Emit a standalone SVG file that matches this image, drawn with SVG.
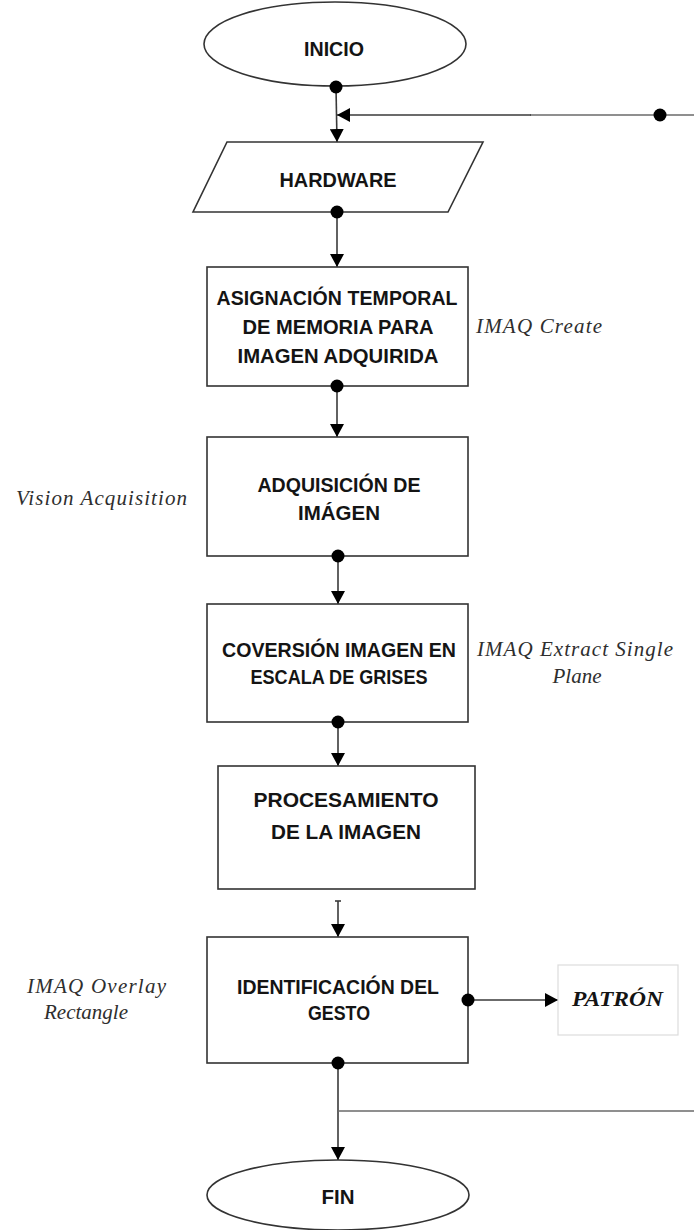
<svg xmlns="http://www.w3.org/2000/svg" width="694" height="1230" viewBox="0 0 694 1230">
  <style>
    .shape { fill: #ffffff; stroke: #333333; stroke-width: 1.6; }
    .lbl { font-family: "Liberation Sans", Arial, sans-serif; font-weight: bold; font-size: 19.5px; fill: #141414; text-anchor: middle; }
    .note { font-family: "Liberation Serif", "Times New Roman", serif; font-style: italic; font-size: 21px; fill: #2e2e2e; }
    .wire { fill: none; stroke: #3a3a3a; stroke-width: 1.6; }
    .wire-light { fill: none; stroke: #6a6a6a; stroke-width: 1.6; }
    .dot { fill: #000000; }
  </style>
  <defs>
    <marker id="arrow" markerUnits="userSpaceOnUse" markerWidth="14" markerHeight="14" refX="13" refY="7" orient="auto">
      <path d="M0,0 L13,7 L0,14 Z" fill="#000000"/>
    </marker>
  </defs>

  <rect width="694" height="1230" fill="#ffffff"/>

  <!-- connectors -->
  <g id="connectors">
    <line class="wire" x1="336" y1="87" x2="337" y2="142" marker-end="url(#arrow)"/>
    <!-- loop-back from the right edge into the HARDWARE input -->
    <line class="wire-light" x1="694" y1="115" x2="530" y2="115"/>
    <line class="wire" x1="531" y1="115" x2="337" y2="115" marker-end="url(#arrow)"/>
    <circle class="dot" cx="660" cy="115" r="6.5"/>
    <line class="wire" x1="337" y1="212" x2="337" y2="267" marker-end="url(#arrow)"/>
    <line class="wire" x1="337" y1="386" x2="337" y2="437" marker-end="url(#arrow)"/>
    <line class="wire" x1="338" y1="556" x2="338" y2="604" marker-end="url(#arrow)"/>
    <line class="wire" x1="338" y1="722" x2="338" y2="766" marker-end="url(#arrow)"/>
    <line class="wire" x1="338" y1="901" x2="338" y2="937" marker-end="url(#arrow)"/>
    <line class="wire" x1="335" y1="901" x2="341" y2="901"/>
    <line class="wire" x1="468" y1="1000" x2="558" y2="1000" marker-end="url(#arrow)"/>
    <line class="wire" x1="338" y1="1063" x2="338" y2="1160" marker-end="url(#arrow)"/>
    <line class="wire-light" x1="338" y1="1111" x2="694" y2="1111"/>
  </g>

  <!-- start -->
  <g id="inicio">
    <ellipse class="shape" cx="335" cy="44" rx="131" ry="42"/>
    <text class="lbl" x="334" y="56" textLength="60" lengthAdjust="spacingAndGlyphs">INICIO</text>
    <circle class="dot" cx="336" cy="87" r="6.5"/>
  </g>

  <!-- input -->
  <g id="hardware">
    <polygon class="shape" points="227,142 483,142 448,212 193,212"/>
    <text class="lbl" x="338" y="187" textLength="117" lengthAdjust="spacingAndGlyphs">HARDWARE</text>
    <circle class="dot" cx="337" cy="212" r="6.5"/>
  </g>

  <g id="asignacion">
    <rect class="shape" x="207" y="267" width="261" height="119"/>
    <text class="lbl" x="337" y="305" textLength="241" lengthAdjust="spacing">ASIGNACIÓN TEMPORAL</text>
    <text class="lbl" x="338" y="334" textLength="191" lengthAdjust="spacingAndGlyphs">DE MEMORIA PARA</text>
    <text class="lbl" x="338" y="363" textLength="201" lengthAdjust="spacingAndGlyphs">IMAGEN ADQUIRIDA</text>
    <circle class="dot" cx="337" cy="386" r="6.5"/>
    <text class="note" x="476" y="333" textLength="126" lengthAdjust="spacing">IMAQ Create</text>
  </g>

  <g id="adquisicion">
    <rect class="shape" x="207" y="437" width="261" height="119"/>
    <text class="lbl" x="339" y="492" textLength="163" lengthAdjust="spacingAndGlyphs">ADQUISICIÓN DE</text>
    <text class="lbl" x="339" y="520" textLength="82" lengthAdjust="spacingAndGlyphs">IMÁGEN</text>
    <circle class="dot" cx="338" cy="556" r="6.5"/>
    <text class="note" x="16" y="505" textLength="171" lengthAdjust="spacing">Vision Acquisition</text>
  </g>

  <g id="conversion">
    <rect class="shape" x="207" y="604" width="261" height="118"/>
    <text class="lbl" x="339" y="657" textLength="234" lengthAdjust="spacingAndGlyphs">COVERSIÓN IMAGEN EN</text>
    <text class="lbl" x="339" y="684" textLength="177" lengthAdjust="spacingAndGlyphs">ESCALA DE GRISES</text>
    <circle class="dot" cx="338" cy="722" r="6.5"/>
    <text class="note" x="477" y="656" textLength="196" lengthAdjust="spacing">IMAQ Extract Single</text>
    <text class="note" x="577" y="683" text-anchor="middle">Plane</text>
  </g>

  <g id="procesamiento">
    <rect class="shape" x="218" y="766" width="257" height="123"/>
    <text class="lbl" x="346" y="807" textLength="185" lengthAdjust="spacingAndGlyphs">PROCESAMIENTO</text>
    <text class="lbl" x="346" y="839" textLength="150" lengthAdjust="spacingAndGlyphs">DE LA IMAGEN</text>
  </g>

  <g id="identificacion">
    <rect class="shape" x="207" y="937" width="261" height="126"/>
    <text class="lbl" x="338" y="994" textLength="202" lengthAdjust="spacingAndGlyphs">IDENTIFICACIÓN DEL</text>
    <text class="lbl" x="339" y="1020" textLength="62" lengthAdjust="spacingAndGlyphs">GESTO</text>
    <circle class="dot" cx="468" cy="1000" r="6.5"/>
    <circle class="dot" cx="338" cy="1063" r="6.5"/>
    <text class="note" x="27" y="993" textLength="139" lengthAdjust="spacing">IMAQ Overlay</text>
    <text class="note" x="44" y="1019" textLength="84" lengthAdjust="spacingAndGlyphs">Rectangle</text>
  </g>

  <g id="patron">
    <rect x="558" y="965" width="120" height="70" fill="#ffffff" stroke="#dcdcdc" stroke-width="1.2"/>
    <text x="572" y="1006" textLength="91" lengthAdjust="spacingAndGlyphs" font-family="Liberation Serif, 'Times New Roman', serif" font-style="italic" font-weight="bold" font-size="21" fill="#141414">PATRÓN</text>
  </g>

  <!-- end -->
  <g id="fin">
    <ellipse class="shape" cx="338" cy="1195" rx="131" ry="35"/>
    <text class="lbl" x="338" y="1204" textLength="33" lengthAdjust="spacingAndGlyphs">FIN</text>
  </g>
</svg>
